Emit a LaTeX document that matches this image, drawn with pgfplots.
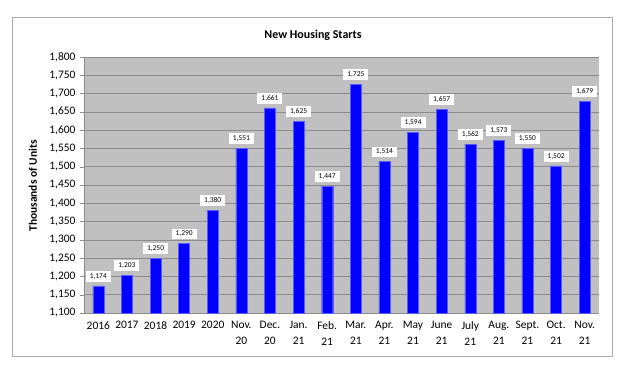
\documentclass[border=0pt]{standalone}
\usepackage{pgfplots}
\pgfplotsset{compat=1.18}
\usepackage{fontspec}
\setmainfont{Carlito}
\definecolor{plotbg}{RGB}{192,192,192}
\definecolor{gridc}{RGB}{140,140,140}
\definecolor{barblue}{RGB}{0,0,255}
\definecolor{baredge}{RGB}{90,90,255}
\definecolor{framec}{RGB}{170,170,170}
\begin{document}
\begin{tikzpicture}[x=1bp,y=1bp]
\useasboundingbox (0,0) rectangle (621,366);
\draw[framec, fill=white, line width=0.8bp] (12,10) rectangle (612,349);
\node[font=\fontsize{12}{13}\selectfont\bfseries] at (313,331) {New Housing Starts};
\node[font=\fontsize{11.5}{12}\selectfont\bfseries, rotate=90] at (33,180) {Thousands of Units};
\begin{axis}[
  at={(84bp,53bp)}, anchor=south west,
  width=515bp, height=256bp, scale only axis,
  ymin=1100, ymax=1800, ytick distance=50,
  xmin=-0.5, xmax=17.5,
  xtick={0,...,17},
  xticklabels={2016,2017,2018,2019,2020,{Nov.\\20},{Dec.\\20},{Jan.\\21},{Feb.\\21},{Mar.\\21},{Apr.\\21},{May\\21},{June\\21},{July\\21},{Aug.\\21},{Sept.\\21},{Oct.\\21},{Nov.\\21}},
  xticklabel style={align=center, font=\fontsize{11.5}{16}\selectfont, yshift=-1bp},
  yticklabel style={font=\fontsize{11.5}{12}\selectfont, xshift=-1bp},
  /pgf/number format/assume math mode=true,
  /pgf/number format/1000 sep={,},
  axis background/.style={fill=plotbg},
  ymajorgrids, grid style={gridc, line width=0.6bp},
  axis x line*=bottom, axis y line*=left,
  axis line style={gridc, -},
  x axis line style={draw=none},
  major x tick style={draw=none},
  major y tick style={gridc},
  tick align=outside, major tick length=4bp,
  ybar, bar width=11bp,
  nodes near coords,
  nodes near coords style={
    font=\fontsize{7.5}{8}\selectfont, fill=white, inner xsep=4bp, inner ysep=2.5bp,
    anchor=south, yshift=4bp,
    /pgf/number format/assume math mode=true,
    /pgf/number format/1000 sep={,}},
]
\addplot[fill=barblue, draw=baredge, line width=0.4bp] coordinates {
(0,1174) (1,1203) (2,1250) (3,1290) (4,1380) (5,1551) (6,1661) (7,1625) (8,1447)
(9,1725) (10,1514) (11,1594) (12,1657) (13,1562) (14,1573) (15,1550) (16,1502) (17,1679)};
\end{axis}
\end{tikzpicture}
\end{document}
